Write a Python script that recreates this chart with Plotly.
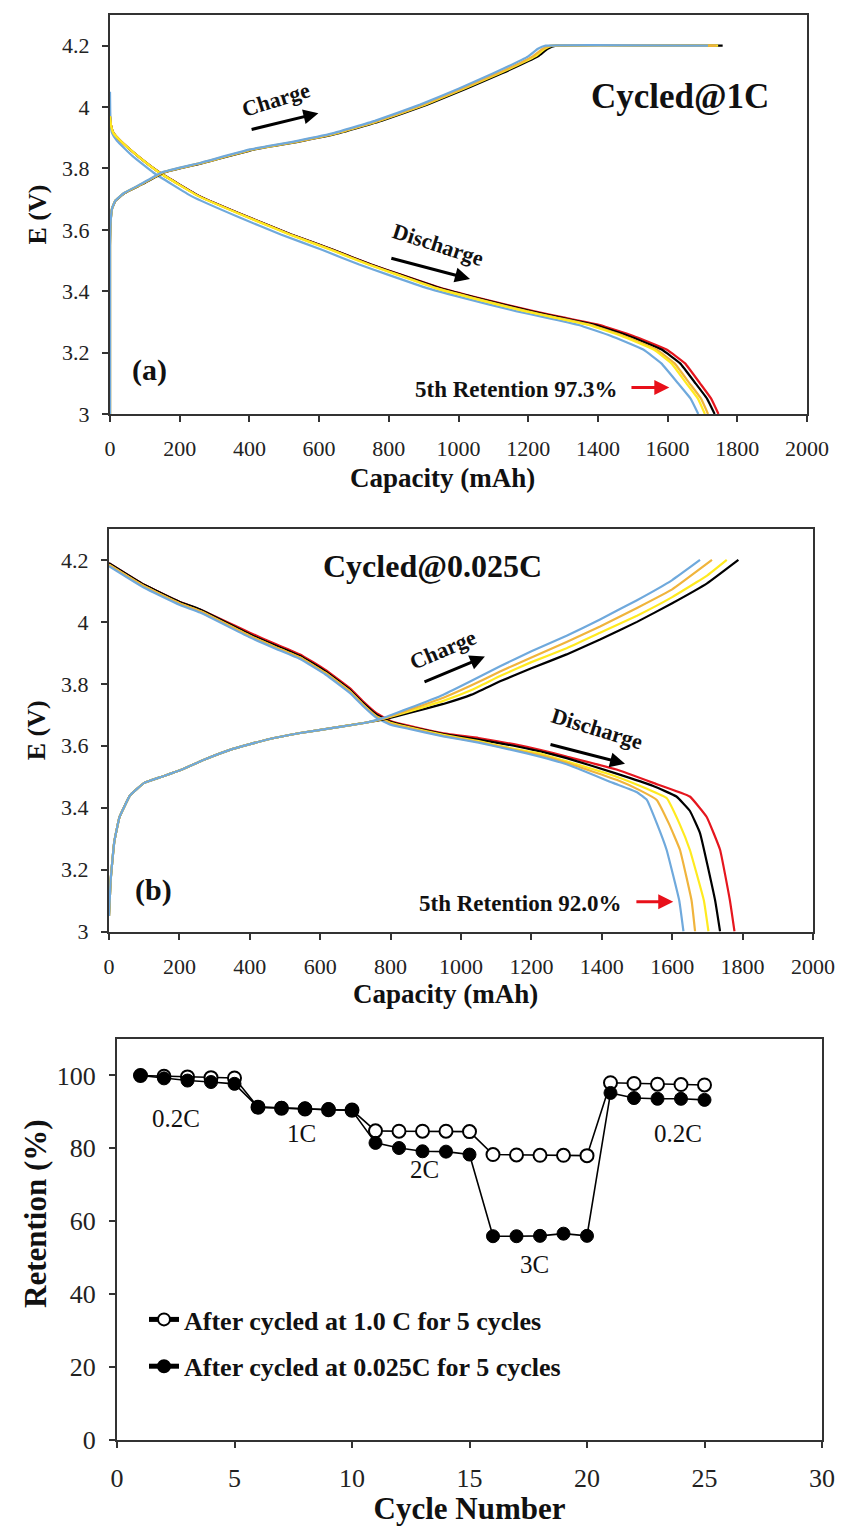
import plotly.graph_objects as go

# ---------------- Panel (a): cycled at 1C ----------------
A_DIS_V = [3.97, 3.94, 3.915, 3.89, 3.84, 3.786, 3.709, 3.64, 3.585, 3.535, 3.487, 3.455,
           3.41, 3.38, 3.335, 3.315, 3.29, 3.255, 3.21, 3.165, 3.10, 3.05, 3.0]
A_DIS_RED = [0, 3, 10, 30, 80, 143, 258, 400, 520, 640, 750, 832, 950, 1050, 1215, 1300, 1406, 1500, 1597, 1650, 1693, 1725, 1746]
A_DIS_BLACK = [0, 3, 10, 30, 80, 143, 258, 400, 520, 640, 749, 830, 946, 1045, 1207, 1290, 1394, 1487, 1583, 1636, 1680, 1713, 1735]
A_DIS_GOLD = [0, 3, 10, 30, 80, 142, 256, 398, 517, 636, 744, 824, 938, 1036, 1196, 1278, 1381, 1473, 1568, 1620, 1663, 1696, 1716]
A_DIS_YELLOW = [0, 3, 10, 30, 80, 142, 255, 396, 515, 633, 741, 821, 934, 1031, 1190, 1272, 1374, 1466, 1560, 1611, 1654, 1687, 1707]
A_DIS_BLUE_V = [4.05, 4.0, 3.97, 3.94, 3.915, 3.89, 3.84, 3.786, 3.709, 3.64, 3.585, 3.535, 3.487, 3.455,
                3.41, 3.38, 3.335, 3.315, 3.29, 3.255, 3.21, 3.165, 3.10, 3.05, 3.0]
A_DIS_BLUE = [0, 0.5, 1, 2, 6, 20, 65, 125, 235, 372, 490, 608, 715, 795, 910, 1008, 1165, 1248, 1345, 1436, 1530, 1582, 1630, 1666, 1688]

A_CHG_V = [3.0, 3.55, 3.63, 3.67, 3.695, 3.72, 3.75, 3.787, 3.818, 3.862, 3.886, 3.915, 3.955,
           4.008, 4.06, 4.11, 4.165, 4.19, 4.2, 4.2]
A_CHG_BLUE = [0, 0, 2, 6, 15, 40, 90, 148, 258, 402, 520, 641, 760, 890, 1000, 1100, 1200, 1228, 1250, 1716]
A_CHG_GOLD = [0, 0, 2, 6, 15, 41, 92, 151, 262, 408, 527, 648, 768, 899, 1010, 1112, 1213, 1242, 1264, 1740]
A_CHG_YELLOW = [0, 0, 2, 6, 15, 41, 93, 152, 264, 411, 530, 652, 772, 904, 1015, 1118, 1220, 1248, 1270, 1745]
A_CHG_BLACK = [0, 0, 2, 6, 16, 42, 95, 155, 268, 415, 535, 657, 778, 910, 1022, 1125, 1228, 1256, 1280, 1758]

# ---------------- Panel (b): cycled at 0.025C ----------------
B_DIS_RED_X = [0, 100, 200, 259, 400, 470, 543, 615, 685, 720, 760, 800, 850, 950, 1050, 1150, 1224, 1300, 1442, 1546, 1650, 1698, 1736, 1764, 1777]
B_DIS_RED_V = [4.19, 4.12, 4.065, 4.04, 3.965, 3.93, 3.895, 3.845, 3.785, 3.745, 3.705, 3.68, 3.665, 3.64, 3.625, 3.605, 3.587, 3.565, 3.523, 3.48, 3.436, 3.37, 3.264, 3.10, 3.0]
B_DIS_BLACK_X = [0, 100, 200, 259, 400, 470, 543, 615, 685, 720, 760, 800, 850, 950, 1050, 1150, 1224, 1300, 1442, 1546, 1612, 1650, 1679, 1722, 1736]
B_DIS_BLACK_V = [4.19, 4.12, 4.065, 4.04, 3.96, 3.925, 3.89, 3.84, 3.78, 3.74, 3.70, 3.677, 3.662, 3.638, 3.62, 3.60, 3.582, 3.56, 3.51, 3.47, 3.436, 3.39, 3.318, 3.10, 3.0]
B_DIS_YELLOW_X = [0, 100, 200, 259, 400, 470, 543, 615, 685, 720, 760, 800, 850, 950, 1050, 1150, 1224, 1300, 1442, 1530, 1584, 1620, 1650, 1690, 1703]
B_DIS_YELLOW_V = [4.185, 4.115, 4.06, 4.035, 3.955, 3.92, 3.885, 3.835, 3.775, 3.735, 3.695, 3.674, 3.66, 3.635, 3.615, 3.59, 3.575, 3.55, 3.50, 3.46, 3.431, 3.35, 3.264, 3.10, 3.0]
B_DIS_GOLD_X = [0, 100, 200, 259, 400, 470, 543, 615, 685, 720, 760, 800, 850, 950, 1050, 1150, 1224, 1300, 1442, 1510, 1556, 1590, 1622, 1655, 1665]
B_DIS_GOLD_V = [4.185, 4.115, 4.06, 4.035, 3.955, 3.92, 3.885, 3.835, 3.775, 3.735, 3.695, 3.672, 3.658, 3.632, 3.612, 3.587, 3.57, 3.545, 3.49, 3.455, 3.425, 3.35, 3.264, 3.10, 3.0]
B_DIS_BLUE_X = [0, 100, 200, 259, 400, 470, 543, 615, 685, 720, 760, 800, 850, 950, 1050, 1150, 1224, 1300, 1432, 1500, 1528, 1556, 1584, 1620, 1632]
B_DIS_BLUE_V = [4.18, 4.11, 4.055, 4.03, 3.95, 3.915, 3.88, 3.83, 3.77, 3.73, 3.69, 3.668, 3.655, 3.63, 3.61, 3.585, 3.565, 3.54, 3.48, 3.45, 3.425, 3.35, 3.264, 3.10, 3.0]

B_CHG_EARLY_X = [0, 5, 15, 30, 60, 100, 150, 200, 270, 352, 450, 543, 650, 732]
B_CHG_EARLY_V = [3.05, 3.17, 3.29, 3.37, 3.44, 3.48, 3.50, 3.52, 3.555, 3.59, 3.62, 3.641, 3.66, 3.675]
B_CHG_LATE_X_BLUE = [780, 850, 950, 1030, 1111, 1200, 1300, 1395, 1500, 1600, 1679]
B_CHG_LATE_V_BLUE = [3.69, 3.72, 3.765, 3.81, 3.857, 3.905, 3.955, 4.008, 4.07, 4.135, 4.2]
B_CHG_LATE_X_GOLD = [780, 850, 950, 1030, 1111, 1200, 1300, 1395, 1500, 1600, 1713]
B_CHG_LATE_V_GOLD = [3.688, 3.715, 3.755, 3.795, 3.84, 3.885, 3.935, 3.985, 4.045, 4.105, 4.2]
B_CHG_LATE_X_YELLOW = [780, 850, 950, 1030, 1111, 1200, 1300, 1395, 1500, 1600, 1700, 1755]
B_CHG_LATE_V_YELLOW = [3.687, 3.71, 3.745, 3.78, 3.825, 3.87, 3.915, 3.965, 4.02, 4.08, 4.15, 4.2]
B_CHG_LATE_X_BLACK = [780, 850, 950, 1030, 1111, 1200, 1300, 1395, 1500, 1600, 1700, 1788]
B_CHG_LATE_V_BLACK = [3.685, 3.705, 3.735, 3.765, 3.808, 3.85, 3.895, 3.943, 4.0, 4.06, 4.125, 4.2]

# ---------------- Panel (c): rate capability ----------------
CYCLES = list(range(1, 26))
RET_1C = [100, 99.8, 99.6, 99.4, 99.3, 91.3, 91.0, 90.8, 90.6, 90.5,
          84.8, 84.7, 84.7, 84.7, 84.6, 78.3, 78.2, 78.1, 78.1, 78.0,
          98.0, 97.8, 97.6, 97.5, 97.4]
RET_0025C = [100, 99.2, 98.6, 98.2, 97.7, 91.3, 91.1, 91.0, 90.8, 90.4,
             81.5, 80.1, 79.2, 79.1, 78.3, 55.9, 55.9, 56.0, 56.6, 56.0,
             95.2, 93.8, 93.6, 93.6, 93.3]
LEGEND_1C = "After cycled at 1.0 C for 5 cycles"
LEGEND_0025C = "After cycled at 0.025C for 5 cycles"

CAP_TICKS = [0, 200, 400, 600, 800, 1000, 1200, 1400, 1600, 1800, 2000]
E_TICKS = [3.0, 3.2, 3.4, 3.6, 3.8, 4.0, 4.2]
E_TICK_TEXT = ["3", "3.2", "3.4", "3.6", "3.8", "4", "4.2"]
CYC_TICKS = [0, 5, 10, 15, 20, 25, 30]
RET_TICKS = [0, 20, 40, 60, 80, 100]

RED, BLACK, YELLOW, GOLD, BLUE = "#E5161E", "#000000", "#FFEA1F", "#F0B43C", "#6FA9DC"
FONT = "Liberation Serif"
AXC = "#333333"

fig = go.Figure()

def curve(x, y, color, xa, ya, w=2.2):
    fig.add_trace(go.Scatter(x=x, y=y, mode="lines", line=dict(color=color, width=w, shape="spline", smoothing=0.3),
                             xaxis=xa, yaxis=ya, showlegend=False, hoverinfo="skip"))

# panel a
curve(A_DIS_RED, A_DIS_V, RED, "x", "y")
curve(A_DIS_BLACK, A_DIS_V, BLACK, "x", "y")
curve(A_DIS_BLUE, A_DIS_BLUE_V, BLUE, "x", "y")
curve(A_DIS_GOLD, A_DIS_V, GOLD, "x", "y")
curve(A_DIS_YELLOW, A_DIS_V, YELLOW, "x", "y")
curve(A_CHG_BLACK, A_CHG_V, BLACK, "x", "y")
curve(A_CHG_YELLOW, A_CHG_V, YELLOW, "x", "y")
curve(A_CHG_GOLD, A_CHG_V, GOLD, "x", "y")
curve(A_CHG_BLUE, A_CHG_V, BLUE, "x", "y")

# panel b
curve(B_DIS_RED_X, B_DIS_RED_V, RED, "x2", "y2")
curve(B_DIS_BLACK_X, B_DIS_BLACK_V, BLACK, "x2", "y2")
curve(B_DIS_YELLOW_X, B_DIS_YELLOW_V, YELLOW, "x2", "y2")
curve(B_DIS_GOLD_X, B_DIS_GOLD_V, GOLD, "x2", "y2")
curve(B_DIS_BLUE_X, B_DIS_BLUE_V, BLUE, "x2", "y2")
curve(B_CHG_EARLY_X + B_CHG_LATE_X_BLACK, B_CHG_EARLY_V + B_CHG_LATE_V_BLACK, BLACK, "x2", "y2")
curve(B_CHG_EARLY_X + B_CHG_LATE_X_YELLOW, B_CHG_EARLY_V + B_CHG_LATE_V_YELLOW, YELLOW, "x2", "y2")
curve(B_CHG_EARLY_X + B_CHG_LATE_X_GOLD, B_CHG_EARLY_V + B_CHG_LATE_V_GOLD, GOLD, "x2", "y2")
curve(B_CHG_EARLY_X + B_CHG_LATE_X_BLUE, B_CHG_EARLY_V + B_CHG_LATE_V_BLUE, BLUE, "x2", "y2")

# panel c
fig.add_trace(go.Scatter(x=CYCLES, y=RET_1C, mode="lines+markers", name=LEGEND_1C, legendgroup="g1",
                         line=dict(color="black", width=1.6),
                         marker=dict(symbol="circle", size=13, color="white", line=dict(color="black", width=2)),
                         xaxis="x3", yaxis="y3"))
fig.add_trace(go.Scatter(x=CYCLES, y=RET_0025C, mode="lines+markers", name=LEGEND_0025C, legendgroup="g2",
                         line=dict(color="black", width=1.6),
                         marker=dict(symbol="circle", size=13, color="black", line=dict(color="black", width=1)),
                         xaxis="x3", yaxis="y3"))

tickfont = dict(family=FONT, size=22, color="#222")
titlefont = dict(family=FONT, size=26, color="#111", weight="bold")

def xax(domain, anchor, rng, vals, title, standoff, tf=tickfont, ttf=titlefont):
    return dict(domain=domain, anchor=anchor, range=rng, tickvals=vals, showgrid=False, zeroline=False,
                showline=True, mirror=True, linecolor=AXC, linewidth=2, ticks="outside", ticklen=6,
                tickwidth=1.5, tickcolor=AXC, tickfont=tf, ticklabelstandoff=8, automargin=False,
                title=dict(text=title, font=ttf, standoff=standoff))

def yax(domain, anchor, rng, vals, text, title, standoff, tf=tickfont, ttf=titlefont):
    d = dict(domain=domain, anchor=anchor, range=rng, tickvals=vals, showgrid=False, zeroline=False,
             showline=True, mirror=True, linecolor=AXC, linewidth=2, ticks="outside", ticklen=6,
             tickwidth=1.5, tickcolor=AXC, tickfont=tf, ticklabelstandoff=8, automargin=False,
             title=dict(text=title, font=ttf, standoff=standoff))
    if text is not None:
        d["ticktext"] = text
    return d

W, H = 841, 1526
ctick = dict(family=FONT, size=26, color="#222")
fig.update_layout(
    width=W, height=H, autosize=False, margin=dict(l=0, r=0, t=0, b=0, autoexpand=False),
    paper_bgcolor="white", plot_bgcolor="white",
    xaxis=xax([110 / W, 807 / W], "y", [0, 2000], CAP_TICKS, "", 10),
    yaxis=yax([1 - 414 / H, 1 - 15 / H], "x", [3, 4.3], E_TICKS, E_TICK_TEXT, "E (V)", 8),
    xaxis2=xax([109 / W, 813 / W], "y2", [0, 2000], CAP_TICKS, "", 10),
    yaxis2=yax([1 - 931.5 / H, 1 - 529 / H], "x2", [3, 4.3], E_TICKS, E_TICK_TEXT, "E (V)", 8),
    xaxis3=xax([117 / W, 822 / W], "y3", [0, 30], CYC_TICKS, "Cycle Number", 12,
               tf=ctick, ttf=dict(family=FONT, size=31, color="#111", weight="bold")),
    yaxis3=yax([1 - 1440 / H, 1 - 1039 / H], "x3", [0, 110], RET_TICKS, None, "", 14, tf=ctick),
    legend=dict(x=144 / W, y=1 - 1296 / H, xanchor="left", yanchor="top", bgcolor="rgba(0,0,0,0)",
                font=dict(family=FONT, size=26, color="#111", weight="bold"), tracegroupgap=10,
                itemsizing="constant", traceorder="grouped"),
    showlegend=True,
)

ann = []
def text(x, y, s, xr, yr, size, bold=True, angle=0, color="#111"):
    ann.append(dict(x=x, y=y, xref=xr, yref=yr, text=s, showarrow=False, textangle=angle,
                    xanchor="center", yanchor="middle",
                    font=dict(family=FONT, size=size, color=color, weight="bold" if bold else "normal")))

def arrow(x0, y0, x1, y1, xr, yr, color, width=3):
    ann.append(dict(x=x1, y=y1, ax=x0, ay=y0, xref=xr, yref=yr, axref=xr, ayref=yr, text="",
                    showarrow=True, arrowhead=2, arrowsize=1, arrowwidth=width, arrowcolor=color))

# axis titles placed like the original
text(442 / W, 1 - 478 / H, "Capacity (mAh)", "paper", "paper", 27)
text(445 / W, 1 - 994 / H, "Capacity (mAh)", "paper", "paper", 27)
text(35 / W, 1 - 1214 / H, "Retention (%)", "paper", "paper", 31, angle=-90)

# panel a annotations
text(1637, 4.035, "Cycled@1C", "x", "y", 35)
text(476, 4.024, "Charge", "x", "y", 22, angle=-17)
arrow(402, 3.926, 598, 3.98, "x", "y", "black")
text(941, 3.551, "Discharge", "x", "y", 22, angle=18)
arrow(803, 3.509, 1033, 3.44, "x", "y", "black")
text(113, 3.144, "(a)", "x", "y", 30)
text(1166, 3.081, "5th Retention 97.3%", "x", "y", 23)
arrow(1492, 3.086, 1605, 3.086, "x", "y", "#E8101A")

# panel b annotations
text(918, 4.18, "Cycled@0.025C", "x2", "y2", 32)
text(949, 3.911, "Charge", "x2", "y2", 22, angle=-23)
arrow(892, 3.804, 1068, 3.888, "x2", "y2", "black")
text(1386, 3.655, "Discharge", "x2", "y2", 22, angle=17)
arrow(1250, 3.605, 1466, 3.542, "x2", "y2", "black")
text(126, 3.134, "(b)", "x2", "y2", 30)
text(1170, 3.091, "5th Retention 92.0%", "x2", "y2", 23)
arrow(1494, 3.096, 1603, 3.096, "x2", "y2", "#E8101A")

# panel c annotations
text(2.53, 88.3, "0.2C", "x3", "y3", 25, bold=False)
text(7.84, 84.0, "1C", "x3", "y3", 25, bold=False)
text(13.09, 74.2, "2C", "x3", "y3", 25, bold=False)
text(17.77, 48.2, "3C", "x3", "y3", 25, bold=False)
text(23.87, 84.2, "0.2C", "x3", "y3", 25, bold=False)

fig.update_layout(annotations=ann)
fig.write_html("out.html", config={"displayModeBar": False},
               post_script="document.body.style.margin='0px';document.body.style.overflow='hidden';")
